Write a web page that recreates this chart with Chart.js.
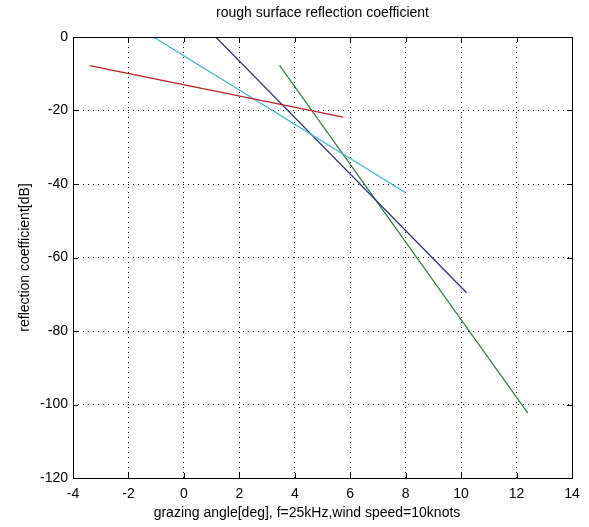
<!DOCTYPE html>
<html>
<head>
<meta charset="utf-8">
<script src="https://cdn.jsdelivr.net/npm/chart.js@4/dist/chart.umd.min.js"></script>
<style>
  html, body { margin: 0; padding: 0; background: #fff; }
  canvas { display: block; }
</style>
</head>
<body>
<canvas id="reflChart" width="589" height="527"></canvas>
<script>
// line end points: [grazing angle deg, dB]
const redLine   = [[-3.4, -7.8], [5.75, -21.8]];
const cyanLine  = [[-1.1, 0], [8.0, -42.4]];
const blueLine  = [[1.15, 0], [10.2, -69.6]];
const greenLine = [[3.45, -7.7], [12.4, -102.3]];

const xTicks = [-4, -2, 0, 2, 4, 6, 8, 10, 12, 14];
const yTicks = [-120, -100, -80, -60, -40, -20, 0];

const titleText = 'rough surface reflection coefficient';
const xTitle = 'grazing angle[deg], f=25kHz,wind speed=10knots';
const yTitle = 'reflection coefficient[dB]';

const FONT = 'Liberation Sans, Arial, sans-serif';

const toPts = arr => arr.map(p => ({ x: p[0], y: p[1] }));

function series(data, color) {
    return {
        data: toPts(data),
        borderColor: color,
        borderWidth: 1.2,
        pointRadius: 0,
        fill: false,
        tension: 0
    };
}

// box round the plot, inner ticks, title and x label
const matlabBox = {
    id: 'matlabBox',
    afterDraw(chart) {
        const { ctx, chartArea: a, scales } = chart;
        ctx.save();
        ctx.strokeStyle = '#000';
        ctx.lineWidth = 1;
        ctx.strokeRect(Math.round(a.left) + 0.5, Math.round(a.top) + 0.5,
            Math.round(a.right - a.left), Math.round(a.bottom - a.top));
        ctx.beginPath();
        xTicks.forEach(v => {
            const px = Math.round(scales.x.getPixelForValue(v)) + 0.5;
            ctx.moveTo(px, a.bottom); ctx.lineTo(px, a.bottom - 5);
            ctx.moveTo(px, a.top); ctx.lineTo(px, a.top + 5);
        });
        yTicks.forEach(v => {
            const py = Math.round(scales.y.getPixelForValue(v)) + 0.5;
            ctx.moveTo(a.left, py); ctx.lineTo(a.left + 5, py);
            ctx.moveTo(a.right, py); ctx.lineTo(a.right - 5, py);
        });
        ctx.stroke();
        ctx.fillStyle = '#000';
        ctx.font = '14px ' + FONT;
        ctx.textAlign = 'center';
        ctx.textBaseline = 'middle';
        ctx.fillText(titleText, (a.left + a.right) / 2, 13);
        ctx.fillText(xTitle, 307, 513);
        ctx.restore();
    }
};

new Chart('reflChart', { //eslint-disable-line
    type: 'line',
    data: {
        datasets: [
            series(redLine, '#b8202e'),
            series(cyanLine, '#38b8c4'),
            series(blueLine, '#2c2c8c'),
            series(greenLine, '#2f7a3c')
        ]
    },
    options: {
        responsive: false,
        animation: false,
        layout: { padding: { top: 37, right: 17, left: 0, bottom: 0 } },
        plugins: {
            legend: { display: false },
            tooltip: { enabled: false },
            title: { display: false }
        },
        scales: {
            x: {
                type: 'linear',
                min: -4,
                max: 14,
                afterBuildTicks: s => { s.ticks = xTicks.map(v => ({ value: v })); },
                afterFit: s => { s.height = 49; },
                grid: {
                    color: '#000',
                    lineWidth: 1,
                    drawTicks: false
                },
                border: { display: false, dash: [1, 4] },
                ticks: {
                    color: '#000',
                    font: { family: FONT, size: 14 },
                    padding: 8,
                    maxRotation: 0
                }
            },
            y: {
                type: 'linear',
                min: -120,
                max: 0,
                afterBuildTicks: s => { s.ticks = yTicks.map(v => ({ value: v })); },
                afterFit: s => { s.width = 73; },
                grid: {
                    color: '#000',
                    lineWidth: 1,
                    drawTicks: false
                },
                border: { display: false, dash: [1, 4] },
                ticks: {
                    color: '#000',
                    font: { family: FONT, size: 14 },
                    padding: 5
                },
                title: {
                    display: true,
                    text: yTitle,
                    color: '#000',
                    font: { family: FONT, size: 14 },
                    padding: { top: 17, bottom: 0 }
                }
            }
        }
    },
    plugins: [matlabBox]
});
</script>
</body>
</html>
